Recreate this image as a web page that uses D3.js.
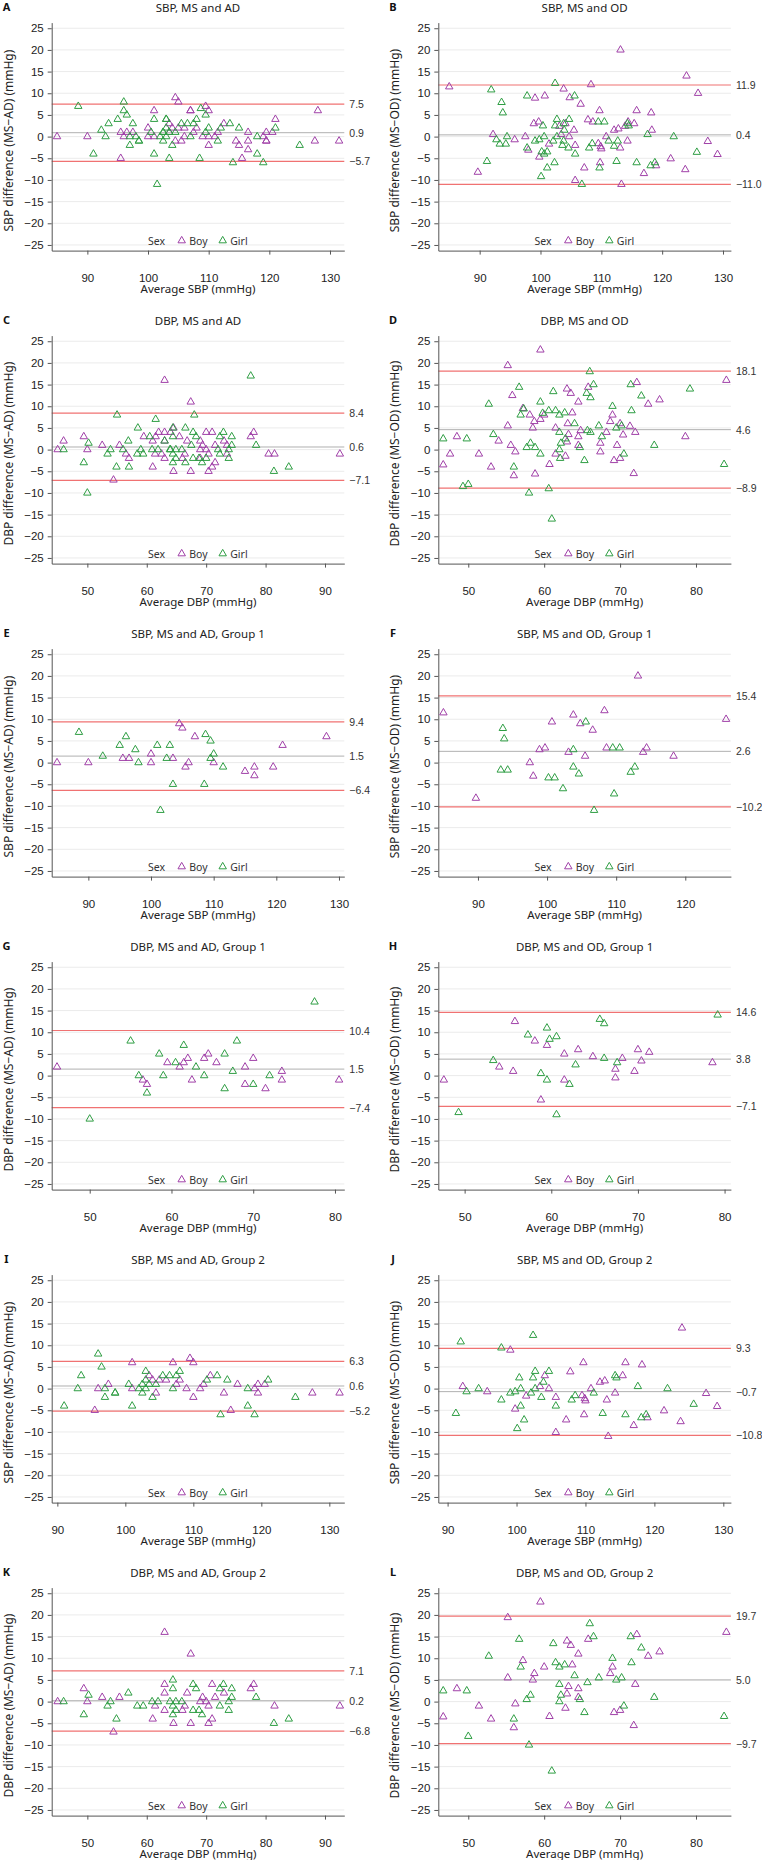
<!DOCTYPE html>
<html><head><meta charset="utf-8">
<script src="https://cdn.jsdelivr.net/npm/d3@7"></script>
<style>body{margin:0;background:#fff}svg{display:block}</style>
</head><body>
<svg id="chart" width="762" height="1860"></svg>
<script>
// ---------- data: [average, difference] ----------
// Group 1
const E_boy = [[85,0],[90,0],[95.5,1],[96.5,1],[100,2],[100,0],[103.5,1],[104.5,9],[105,8],[105.5,-1],[106,0],[107,6],[110,0],[115,-2],[116.5,-1],[116.5,-3],[119.5,-1],[121,4],[128,6]];
const E_girl = [[88.5,7],[92.3,1.5],[95,4],[96,6],[97.5,3],[98,0],[101,4],[101.5,-11],[102.5,1],[103,4],[103.5,-5],[108.5,-5],[108.7,6.5],[109.5,5],[109.5,1],[110,2],[111.5,-1]];
const F_boy = [[85,11.5],[89.7,-8.2],[97.5,0],[98,-3.1],[98.9,3],[99.7,3.4],[100.7,9.4],[103.1,2.4],[103.8,11],[104.8,9],[105.5,1.5],[106.6,7.5],[108.3,12],[108.6,3.4],[113.15,20],[113.9,2.4],[114.4,3.4],[118.3,1.5],[125.9,10]];
const F_girl = [[93.3,-1.7],[94.3,-1.7],[93.6,7.9],[93.8,5.5],[100.2,-3.5],[101.1,-3.5],[102.3,-6],[103.8,3],[103.8,-1],[104.6,-2.6],[105.6,9.4],[109.5,3.4],[109.7,-7.2],[110.5,3.4],[112.1,-2.2],[112.7,-1],[106.8,-11]];
const G_boy = [[46,2],[56.5,-1],[57,-2],[59.5,3],[61,2],[61.5,3],[62,4],[62.5,-1],[64,4],[64.5,5],[65.5,3],[69,2],[69,-2],[70,4],[71.5,-3],[73.5,1],[73.5,-1],[80.5,-1]];
const G_girl = [[50,-10],[55,8],[56,0],[57,-4],[58.5,5],[59,0],[60.5,3],[61.5,7],[63,2],[64,0],[66.5,5],[66.5,-3],[67.5,1],[68,8],[70,-2],[72,0],[77.5,17]];
const H_boy = [[47.6,-1],[54,2],[55.6,1],[55.8,12.5],[58.1,8],[58.8,-5.6],[59.5,7],[61.5,5],[61.5,-1],[63.1,6],[64.8,4.4],[67.4,1.5],[67.4,-0.5],[68.2,4],[69.6,1],[70,6],[70.4,3.4],[71.3,5.4],[78.6,3]];
const H_girl = [[49.3,-8.5],[53.3,3.5],[57.3,9.4],[58.8,0.5],[59.5,11],[59.5,-1],[59.8,8.4],[60.6,9],[60.6,-9],[62.1,-2],[62.8,2.5],[65.6,13],[66.1,12],[66.1,4],[67.6,3],[79.2,14]];
// Group 2
const I_boy = [[95.5,-5],[96,0],[97.5,1],[101,6],[101,0],[103.5,3],[104,2],[104.5,-1],[105,2],[106,2],[107,6],[107.5,1],[108,2],[109,0],[109.5,7],[110,6],[110,-2],[111,0],[111.5,1],[112.5,3],[114.5,-1],[115.5,-5],[116.5,1],[119,0],[119.5,1],[119.5,-1],[120.5,1],[127.5,-1],[131.5,-1]];
const I_girl = [[91,-4],[93,0],[93.5,3],[96,8],[96.5,5],[97,0],[97,-2],[98.5,-1],[98.5,-1],[100.5,1],[101,-4],[102,0],[102.5,-1],[102.5,1],[103,4],[103,2],[103,0],[103.5,1],[104,-2],[104.5,1],[105.5,3],[106.5,3],[107,0],[107.5,3],[108,4],[112,2],[113.5,3],[114,-6],[115,2],[118,0],[118,-4],[119,-6],[121,2],[125,-2]];
const J_boy = [[92.2,0.5],[95.75,-0.7],[99.1,8.9],[99.8,-4.7],[101.4,-1.7],[103.4,0.5],[104.1,3],[104.7,0],[105.7,-2],[105.7,-10.1],[107.2,-7.2],[107.8,3.9],[109.5,-1.6],[109.7,6],[109.8,-6],[109.9,-2.3],[110,-2.8],[110.8,0],[112.1,1.5],[112.8,1.8],[113.1,-2.6],[113.3,-11],[114.3,-1],[115.4,3],[115.8,6],[117,-8.5],[118.2,5.5],[119,-6.7],[121.4,-5.1],[123.8,-7.6],[124,14],[127.5,-1.1],[129.1,-4.1]];
const J_girl = [[91.2,-5.7],[91.9,10.8],[92.75,-0.7],[94.5,0],[97.8,9.4],[97.8,-2.6],[99.1,-1],[99.8,-0.7],[100.4,2.5],[100.6,0],[100.6,-4],[100.1,-9.2],[101.1,-7.2],[102.1,-1],[102.4,2.5],[102.4,12.3],[102.7,4],[102.7,0],[103.6,-2],[103.9,1.5],[104.7,4],[105.7,-4],[108,-2.6],[108.5,-1.6],[111.2,-1],[112.5,-5.7],[114.3,3],[114.5,2.5],[115.8,-6],[117.6,0.5],[118.1,-6.7],[118.8,-6],[121.9,0],[125.7,-3.6]];
const K_boy = [[45,0],[49.4,3],[50,0],[52.5,1],[54.4,-7],[55.4,1],[61,-4],[61.4,-1],[63,16],[63,4],[63,2],[63,-2],[64.5,-5],[66.8,2],[66,-2],[66.4,-1],[67.4,-5],[67.4,11],[69,0],[69.4,1],[70,0],[70.4,-1],[70.4,-5],[71,4],[71,-4],[71.5,1],[73,2],[77.5,3],[78,4],[81.5,-1],[92.5,-1]];
const K_girl = [[46,0],[49.4,-3],[50.2,1.5],[53.4,-1],[53.9,0],[54.9,-4],[56.9,2],[58.4,-1],[59.4,-1],[60.9,0],[61.9,0],[63.9,0],[64.4,5],[64.4,3],[64.4,-1],[64.4,-3],[64.9,-2],[64.9,0],[65.9,0],[67.8,4],[67.8,-2],[68.3,3],[68.8,-2],[69.3,-3],[72.3,-1],[72.3,3],[72.9,4],[73.8,0],[73.8,-2],[74.3,3],[74.3,1],[78.4,1],[81.4,-5],[83.9,-4]];
const L_boy = [[46.7,-3.5],[48.5,3],[51.4,-1],[53,-4],[55.2,19.4],[55.2,5.5],[56,-6],[56.2,-0.5],[57.2,9.5],[58.5,5],[58.7,6.5],[59.5,23],[60,8],[60.7,-3.4],[62.8,-1.5],[63,1.8],[63,14],[63.2,3.5],[63.5,13],[63.7,8.5],[64.5,11],[64.5,3],[64.5,1],[65.8,14.4],[68.7,6.5],[69,8],[69.2,-2.5],[70,-2],[72,4],[71.8,-5.5],[72.2,15.5],[73.7,10.5],[75.2,11.5],[84,16]];
const L_girl = [[46.7,2.5],[49.8,2.5],[50,-8],[52.7,10.5],[56,-4],[56.7,14.4],[56.9,8],[57.7,0.5],[58.2,1.5],[58,-10],[61,-16],[61.2,13.4],[61.5,9],[62,4],[62,8],[62,0],[62.2,1.5],[62.7,8.5],[64,6],[64.7,0.5],[65.3,-2.5],[65.7,4.4],[66,18],[66.5,15],[67.2,5.5],[69,10],[69.5,5],[70.2,5.5],[70.5,-1],[71.4,15],[71.5,9],[72.8,12.4],[74.5,1],[83.7,-3.4]];
// Whole sample = Group 1 + Group 2
const A_boy = E_boy.concat(I_boy), A_girl = E_girl.concat(I_girl);
const B_boy = F_boy.concat(J_boy), B_girl = F_girl.concat(J_girl);
const C_boy = G_boy.concat(K_boy), C_girl = G_girl.concat(K_girl);
const D_boy = H_boy.concat(L_boy), D_girl = H_girl.concat(L_girl);

const panelLetters = ["A","B","C","D","E","F","G","H","I","J","K","L"];
const panelTitles = ["SBP, MS and AD","SBP, MS and OD","DBP, MS and AD","DBP, MS and OD",
  "SBP, MS and AD, Group 1","SBP, MS and OD, Group 1","DBP, MS and AD, Group 1","DBP, MS and OD, Group 1",
  "SBP, MS and AD, Group 2","SBP, MS and OD, Group 2","DBP, MS and AD, Group 2","DBP, MS and OD, Group 2"];
const yTitles = ["SBP difference (MS\u2212AD) (mmHg)","SBP difference (MS\u2212OD) (mmHg)","DBP difference (MS\u2212AD) (mmHg)","DBP difference (MS\u2212OD) (mmHg)"];
const xTitles = ["Average SBP (mmHg)","Average DBP (mmHg)"];
const upperLoA = [7.5, 11.9, 8.4, 18.1, 9.4, 15.4, 10.4, 14.6, 6.3, 9.3, 7.1, 19.7];
const meanDiff = [0.9, 0.4, 0.6, 4.6, 1.5, 2.6, 1.5, 3.8, 0.6, -0.7, 0.2, 5.0];
const lowerLoA = [-5.7, -11.0, -7.1, -8.9, -6.4, -10.2, -7.4, -7.1, -5.2, -10.8, -6.8, -9.7];
const yTickValues = [25, 20, 15, 10, 5, 0, -5, -10, -15, -20, -25];
const xDomains = [[84.12,132.36],[83.2,131.3],[44.0,93.25],[46.05,84.6],[84.15,130.85],[84.26,126.6],
                  [45.35,81.14],[46.96,80.73],[89.17,132.2],[88.65,131.1],[44.0,93.25],[46.05,84.6]];
const boySets = [A_boy,B_boy,C_boy,D_boy,E_boy,F_boy,G_boy,H_boy,I_boy,J_boy,K_boy,L_boy];
const girlSets = [A_girl,B_girl,C_girl,D_girl,E_girl,F_girl,G_girl,H_girl,I_girl,J_girl,K_girl,L_girl];
const legendLabels = ["Boy","Girl"];

// ---------- style ----------
const boyColor = "#a040a8", girlColor = "#2f9e44";
const loaColor = "#f07272", meanColor = "#b0b0b0", gridColor = "#ebebeb", axisColor = "#555";
const textFont = "'Noto Sans', 'Open Sans', sans-serif";
const tickFont = "'Liberation Sans', Arial, sans-serif";

const svg = d3.select("#chart");
const colLeft = [51.7, 438.3];
const plotW = 292.6;
const rowPitch = 313;
const fmt = d3.format(".1f");
const tri = d3.symbol().type(d3.symbolTriangle).size(24);

panelLetters.forEach((letter, i) => {
  const col = i % 2, row = Math.floor(i / 2);
  const left = colLeft[col], right = left + plotW;
  const y0 = 28.3 + row * rowPitch + 108.3;
  const top = y0 - 114, bottom = y0 + 114;
  const x = d3.scaleLinear().domain(xDomains[i]).range([left, right]);
  const y = d3.scaleLinear().domain([-26.3, 26.3]).range([bottom, top]);
  const g = svg.append("g");
  const cx = (left + right) / 2;

  // grid
  g.selectAll("line.grid").data(yTickValues).join("line")
    .attr("x1", left).attr("x2", right)
    .attr("y1", d => y(d)).attr("y2", d => y(d))
    .attr("stroke", gridColor).attr("stroke-width", 1);

  // mean & limits of agreement
  g.append("line").attr("x1", left).attr("x2", right)
    .attr("y1", y(meanDiff[i])).attr("y2", y(meanDiff[i]))
    .attr("stroke", meanColor).attr("stroke-width", 1);
  [upperLoA[i], lowerLoA[i]].forEach(v => {
    g.append("line").attr("x1", left).attr("x2", right)
      .attr("y1", y(v)).attr("y2", y(v))
      .attr("stroke", loaColor).attr("stroke-width", 1.2);
  });
  [upperLoA[i], meanDiff[i], lowerLoA[i]].forEach(v => {
    g.append("text").attr("x", right + 5).attr("y", y(v))
      .attr("dominant-baseline", "central")
      .attr("font-family", tickFont).attr("font-size", 10.5).attr("fill", "#333")
      .text(fmt(v));
  });

  // axes
  const xTicks = d3.range(Math.ceil(xDomains[i][0] / 10) * 10, xDomains[i][1], 10);
  const ya = d3.axisLeft(y).tickValues(yTickValues).tickSize(4).tickPadding(4).tickSizeOuter(0);
  const xa = d3.axisBottom(x).tickValues(xTicks).tickSize(4).tickPadding(19).tickSizeOuter(0);
  const yg = g.append("g").attr("transform", `translate(${left},0)`).call(ya);
  const xg = g.append("g").attr("transform", `translate(0,${bottom})`).call(xa);
  [yg, xg].forEach(a => {
    a.select(".domain").attr("stroke", axisColor).attr("stroke-width", 1);
    a.selectAll(".tick line").attr("stroke", axisColor);
    a.selectAll(".tick text").attr("font-family", tickFont).attr("font-size", 11.5).attr("fill", "#222");
  });

  // points
  g.selectAll("path.boy").data(boySets[i]).join("path")
    .attr("d", tri).attr("transform", d => `translate(${x(d[0])},${y(d[1])})`)
    .attr("fill", "none").attr("stroke", boyColor).attr("stroke-width", 1);
  g.selectAll("path.girl").data(girlSets[i]).join("path")
    .attr("d", tri).attr("transform", d => `translate(${x(d[0])},${y(d[1])})`)
    .attr("fill", "none").attr("stroke", girlColor).attr("stroke-width", 1);

  // legend
  const ly = y(-25) - 4.3;
  g.append("text").attr("x", cx - 50).attr("y", ly).attr("dominant-baseline", "central")
    .attr("font-family", textFont).attr("font-size", 10.5).attr("fill", "#333").text("Sex");
  [[boyColor, cx - 16.3, legendLabels[0]], [girlColor, cx + 24.7, legendLabels[1]]].forEach(([c, px, lab]) => {
    g.append("path").attr("d", tri).attr("transform", `translate(${px},${ly})`)
      .attr("fill", "none").attr("stroke", c).attr("stroke-width", 1);
    g.append("text").attr("x", px + 7.5).attr("y", ly).attr("dominant-baseline", "central")
      .attr("font-family", textFont).attr("font-size", 10.5).attr("fill", "#333").text(lab);
  });

  // titles
  g.append("text").attr("x", cx).attr("y", y0 - 129.6).attr("text-anchor", "middle")
    .attr("dominant-baseline", "central")
    .attr("font-family", textFont).attr("font-size", 11.5).attr("fill", "#222").text(panelTitles[i]);
  g.append("text").attr("x", col === 0 ? 6.5 : 393).attr("y", y0 - 129.8).attr("text-anchor", "middle")
    .attr("dominant-baseline", "central")
    .attr("font-family", textFont).attr("font-size", 11).attr("font-weight", "bold").attr("fill", "#111").text(letter);
  g.append("text").attr("transform", `translate(${left - 43.4},${y0 + 4}) rotate(-90)`)
    .attr("text-anchor", "middle").attr("dominant-baseline", "central")
    .attr("font-family", textFont).attr("font-size", 12).attr("fill", "#222")
    .text(yTitles[(row % 2) * 2 + col]);
  g.append("text").attr("x", cx).attr("y", y0 + 152).attr("text-anchor", "middle")
    .attr("dominant-baseline", "central")
    .attr("font-family", textFont).attr("font-size", 11.5).attr("fill", "#222")
    .text(xTitles[row % 2]);
});
</script>
</body></html>
